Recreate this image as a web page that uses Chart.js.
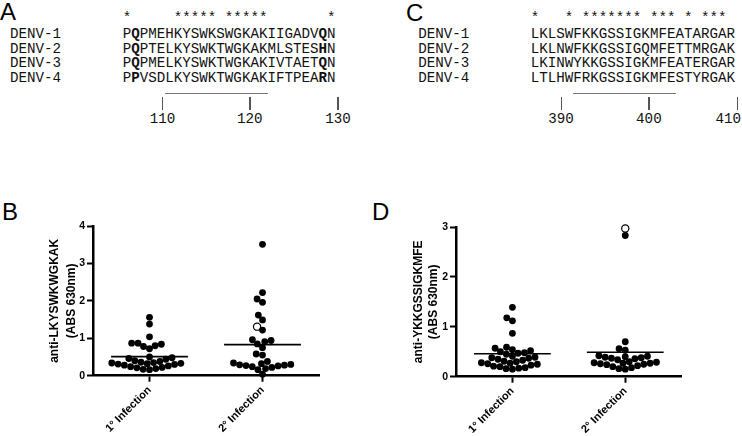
<!DOCTYPE html>
<html>
<head>
<meta charset="utf-8">
<script src="https://cdn.jsdelivr.net/npm/chart.js@4.4.1/dist/chart.umd.min.js"></script>
<style>
body { margin: 0; background: #fff; }
#fig { position: relative; width: 742px; height: 436px; overflow: hidden; font-family: "Liberation Mono", "Courier New", monospace; color: #111; }
.mono { position: absolute; font-size: 14.2px; line-height: 14.2px; white-space: pre; }
.panel { position: absolute; font-family: "Liberation Sans", Arial, sans-serif; font-size: 24px; line-height: 24px; color: #000; }
.tk { position: absolute; width: 1.3px; height: 13px; background: #555; }
.ul { position: absolute; height: 1.5px; background: #777; }
.num { transform: translateX(-50%); }
.numEnd { transform: translateX(-100%); }
canvas { position: absolute; }
</style>
</head>
<body>
<div id="fig">
  <div class="panel" style="left:0px;top:0px">A</div>
  <div class="panel" style="left:406px;top:1px">C</div>
  <div class="panel" style="left:2px;top:200px">B</div>
  <div class="panel" style="left:372px;top:200px">D</div>
  <canvas id="chartB" width="370" height="236" style="left:0px;top:200px"></canvas>
  <canvas id="chartD" width="372" height="236" style="left:370px;top:200px"></canvas>
</div>
<script>
// alignment panels
var strains = ['DENV-1', 'DENV-2', 'DENV-3', 'DENV-4'];
var seqA = ['PQPMEHKYSWKSWGKAKIIGADVQN', 'PQPTELKYSWKTWGKAKMLSTESHN', 'PQPMELKYSWKTWGKAKIVTAETQN', 'PPVSDLKYSWKTWGKAKIFTPEARN'];
var starsA = '*     ***** *****       *';
var boldA = [1, 23];
var tickLabelsA = ['110', '120', '130'];
var seqC = ['LKLSWFKKGSSIGKMFEATARGAR', 'LKLNWFKKGSSIGQMFETTMRGAK', 'LKINWYKKGSSIGKMFEATERGAR', 'LTLHWFRKGSSIGKMFESTYRGAK'];
var starsC = '*   * ******* *** * ***';
var boldC = [];
var tickLabelsC = ['390', '400', '410'];

// dot plots
var groups = ['1° Infection', '2° Infection'];
var yTicksB = [0, 1, 2, 3, 4];
var titleB = ['anti-LKYSWKWGKAK', '(ABS 630nm)'];
var bPrimary = [1.56, 1.38, 1.04, 0.87, 0.84, 0.80, 0.78, 0.72, 0.87,
    0.50, 0.48, 0.46, 0.44, 0.40, 0.38, 0.36, 0.35, 0.34, 0.33, 0.32,
    0.31, 0.30, 0.28, 0.26, 0.24, 0.22, 0.21, 0.19, 0.17, 0.16];
var bSecondary = [3.51, 2.22, 2.05, 1.96, 1.62, 1.49, 1.22, 0.96, 0.94, 0.91,
    0.85, 0.75, 0.58, 0.55, 0.38, 0.34, 0.32, 0.30, 0.29, 0.28,
    0.27, 0.26, 0.24, 0.22, 0.19, 0.16, 0.04];
var bSecondaryOpen = [1.31];
var bMeans = [0.51, 0.83];

var yTicksD = [0, 1, 2, 3];
var titleD = ['anti-YKKGSSIGKMFE', '(ABS 630nm)'];
var dPrimary = [1.39, 1.18, 1.12, 0.87, 0.59, 0.57, 0.54, 0.52, 0.50, 0.48,
    0.47, 0.45, 0.41, 0.39, 0.38, 0.37, 0.35, 0.33, 0.31, 0.30,
    0.28, 0.27, 0.26, 0.25, 0.23, 0.21, 0.20, 0.18, 0.17, 0.16, 0.15];
var dSecondary = [2.83, 0.70, 0.56, 0.53, 0.42, 0.41, 0.40, 0.39, 0.38, 0.37,
    0.36, 0.34, 0.30, 0.29, 0.28, 0.27, 0.27, 0.26, 0.25, 0.24,
    0.22, 0.20, 0.18, 0.16, 0.15];
var dSecondaryOpen = [2.97];
var dMeans = [0.46, 0.49];

var fig = document.getElementById('fig');
var CW = 14.2 * 0.6;

function addDiv(cls, left, top, html, extra) {
    var d = document.createElement('div');
    d.className = cls;
    d.style.left = left + 'px';
    d.style.top = top + 'px';
    if (extra) d.style.cssText += extra;
    d.innerHTML = html;
    fig.appendChild(d);
    return d;
}

function drawAlignment(labelLeft, seqLeft, seqs, stars, bold, tickLabels, tickCols) {
    addDiv('mono', seqLeft, 11, stars);
    seqs.forEach(function (s, r) {
        var top = 27 + 14.5 * r;
        addDiv('mono', labelLeft, top, strains[r]);
        var html = s.split('').map(function (ch, i) {
            return bold.indexOf(i) >= 0 ? '<b>' + ch + '</b>' : ch;
        }).join('');
        addDiv('mono', seqLeft, top, html);
    });
    // underline the peptide in DENV-4 (residues 5..16)
    addDiv('ul', seqLeft + 5 * CW, 92.5, '', 'width:' + (12 * CW) + 'px');
    tickLabels.forEach(function (t, i) {
        var x = seqLeft + tickCols[i] * CW;
        addDiv('tk', x, 97, '');
        // keep the last label inside the figure edge
        if (x + 14 > 742) addDiv('mono numEnd', 741, 112, t);
        else addDiv('mono num', x + 0.6, 112, t);
    });
}

drawAlignment(10, 122.7, seqA, starsA, boldA, tickLabelsA, [4.6, 14.85, 25.2]);
drawAlignment(418.3, 530.7, seqC, starsC, boldC, tickLabelsC, [3.5, 13.8, 24.2]);

var sans = '"Liberation Sans", Arial, sans-serif';

// column scatter: place each dot as close to the column centre as it can go
function swarm(chart) {
    var xs = chart.scales.x, ys = chart.scales.y;
    var D = 6.4;
    groups.forEach(function (g, gi) {
        var cx = xs.getPixelForValue(gi + 1);
        var pts = [];
        chart.data.datasets.forEach(function (ds) {
            if (ds.group === gi) {
                ds.data.forEach(function (p) { pts.push({ p: p, py: ys.getPixelForValue(p.y) }); });
            }
        });
        pts.sort(function (a, b) { return b.py - a.py; });
        var placed = [];
        pts.forEach(function (q) {
            var cands = [0];
            placed.forEach(function (o) {
                var dy = Math.abs(o.py - q.py);
                if (dy < D) {
                    var dx = Math.sqrt(D * D - dy * dy);
                    cands.push(o.px - cx + dx, o.px - cx - dx);
                }
            });
            cands.sort(function (a, b) { return Math.abs(a) - Math.abs(b) || a - b; });
            var best = 0;
            for (var k = 0; k < cands.length; k++) {
                var c = cands[k];
                var ok = placed.every(function (o) { return Math.hypot(o.px - cx - c, o.py - q.py) >= D - 0.01; });
                if (ok) { best = c; break; }
            }
            q.px = cx + best;
            placed.push(q);
            q.p.x = xs.getValueForPixel(q.px);
        });
    });
    chart.update('none');
}

function dotChart(id, cfg) {
    var pts = function (vals, gx) { return vals.map(function (v) { return { x: gx, y: v }; }); };
    var meanLine = function (gi) {
        return {
            type: 'line', data: [{ x: gi + 1 - 0.34, y: cfg.means[gi] }, { x: gi + 1 + 0.34, y: cfg.means[gi] }],
            borderColor: '#000', borderWidth: 1.6, pointRadius: 0, clip: false
        };
    };
    var chart = new Chart(document.getElementById(id), {
        type: 'scatter',
        data: {
            datasets: [
                { data: pts(cfg.primary, 1), group: 0, backgroundColor: '#000', borderColor: '#000', pointRadius: 3.4, borderWidth: 0, clip: false },
                { data: pts(cfg.secondary, 2), group: 1, backgroundColor: '#000', borderColor: '#000', pointRadius: 3.4, borderWidth: 0, clip: false },
                { data: pts(cfg.secondaryOpen, 2), group: 1, backgroundColor: '#fff', borderColor: '#000', pointRadius: 3.6, borderWidth: 1.2, clip: false },
                meanLine(0),
                meanLine(1)
            ]
        },
        options: {
            responsive: false,
            animation: false,
            devicePixelRatio: 1,
            layout: { padding: { top: cfg.padTop, right: cfg.padRight, left: 0, bottom: 0 } },
            plugins: { legend: { display: false }, tooltip: { enabled: false } },
            scales: {
                x: {
                    type: 'linear', min: 0.5, max: 2.5,
                    afterBuildTicks: function (s) { s.ticks = [{ value: 1 }, { value: 2 }]; },
                    afterFit: function (s) { s.height = cfg.xAxisH; },
                    grid: { drawOnChartArea: false, drawTicks: true, tickLength: 6, tickWidth: 2, tickColor: '#000', color: '#000' },
                    border: { color: '#000', width: 2.5 },
                    ticks: {
                        autoSkip: false, maxRotation: 45, minRotation: 45, padding: 2, color: '#000',
                        font: { family: sans, size: 11, weight: 'bold' },
                        callback: function (v) { return groups[Math.round(v) - 1]; }
                    }
                },
                y: {
                    min: 0, max: cfg.yTicks[cfg.yTicks.length - 1],
                    afterBuildTicks: function (s) { s.ticks = cfg.yTicks.map(function (v) { return { value: v }; }); },
                    afterFit: function (s) { s.width = cfg.yAxisW; },
                    grid: { drawOnChartArea: false, drawTicks: true, tickLength: 6, tickWidth: 2, tickColor: '#000', color: '#000' },
                    border: { color: '#000', width: 2.5 },
                    ticks: { padding: 2, color: '#000', font: { family: sans, size: 10.5, weight: 'bold' } },
                    title: {
                        display: true, text: cfg.title, color: '#000',
                        font: { family: sans, size: 12, weight: 'bold', lineHeight: cfg.titleLH },
                        padding: { top: cfg.titlePad, bottom: 0 }
                    }
                }
            }
        }
    });
    swarm(chart);
    return chart;
}

dotChart('chartB', {
    primary: bPrimary, secondary: bSecondary, secondaryOpen: bSecondaryOpen, means: bMeans,
    yTicks: yTicksB, title: titleB,
    padTop: 26, padRight: 51, xAxisH: 60.3, yAxisW: 93, titleLH: 1.4, titlePad: 46.6
});
dotChart('chartD', {
    primary: dPrimary, secondary: dSecondary, secondaryOpen: dSecondaryOpen, means: dMeans,
    yTicks: yTicksD, title: titleD,
    padTop: 27, padRight: 60.3, xAxisH: 59.3, yAxisW: 86, titleLH: 1.25, titlePad: 40.8
});
</script>
</body>
</html>
